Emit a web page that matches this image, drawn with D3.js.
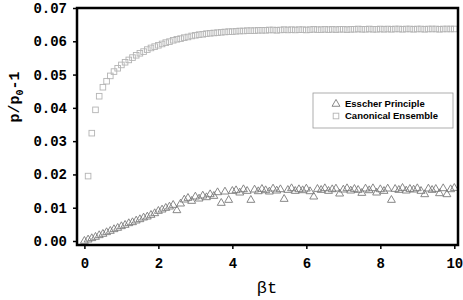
<!DOCTYPE html>
<html>
<head>
<meta charset="utf-8">
<script src="https://cdn.jsdelivr.net/npm/d3@7"></script>
<style>
  body { margin: 0; background: #fff; }
  svg { display: block; }
</style>
</head>
<body>
<svg id="chart" width="463" height="300"></svg>
<script>
// Time axis (beta t), step 0.1
const esscherT = d3.range(0, 101).map(i => +(i / 10).toFixed(1));
const canonicalT = d3.range(1, 101).map(i => +(i / 10).toFixed(1));

// Esscher Principle (triangles)
const esscherValues = [
  0.0000, 0.0004, 0.0008, 0.0012, 0.0017, 0.0021, 0.0026, 0.0030, 0.0035, 0.0039,
  0.0044, 0.0048, 0.0053, 0.0056, 0.0061, 0.0065, 0.0070, 0.0073, 0.0078, 0.0083,
  0.0090, 0.0094, 0.0099, 0.0103, 0.0108, 0.0092, 0.0112, 0.0124, 0.0129, 0.0120,
  0.0133, 0.0127, 0.0136, 0.0131, 0.0140, 0.0135, 0.0146, 0.0114, 0.0148, 0.0123,
  0.0150, 0.0152, 0.0145, 0.0155, 0.0150, 0.0123, 0.0154, 0.0149, 0.0156, 0.0152,
  0.0148, 0.0157, 0.0151, 0.0155, 0.0126, 0.0153, 0.0158, 0.0150, 0.0155, 0.0152,
  0.0157, 0.0149, 0.0133, 0.0156, 0.0153, 0.0158, 0.0150, 0.0155, 0.0157, 0.0142,
  0.0154, 0.0158, 0.0151, 0.0156, 0.0153, 0.0144, 0.0157, 0.0152, 0.0158, 0.0145,
  0.0155, 0.0150, 0.0157, 0.0123, 0.0156, 0.0153, 0.0159, 0.0151, 0.0156, 0.0154,
  0.0158, 0.0150, 0.0140, 0.0157, 0.0153, 0.0156, 0.0143, 0.0158, 0.0140, 0.0155,
  0.0159
];

// Canonical Ensemble (squares)
const canonicalValues = [
  0.0195, 0.0324, 0.0394, 0.0435, 0.0462, 0.0480, 0.0496, 0.0509, 0.0519, 0.0529,
  0.0537, 0.0544, 0.0551, 0.0558, 0.0564, 0.0569, 0.0575, 0.0580, 0.0584, 0.0588,
  0.0592, 0.0596, 0.0599, 0.0603, 0.0606, 0.0608, 0.0611, 0.0613, 0.0616, 0.0618,
  0.0620, 0.0621, 0.0623, 0.0624, 0.0625, 0.0626, 0.0627, 0.0628, 0.0629, 0.0629,
  0.0630, 0.0631, 0.0631, 0.0632, 0.0632, 0.0632, 0.0633, 0.0633, 0.0633, 0.0634,
  0.0634, 0.0633, 0.0634, 0.0635, 0.0634, 0.0635, 0.0634, 0.0635, 0.0635, 0.0634,
  0.0635, 0.0636, 0.0635, 0.0635, 0.0636, 0.0635, 0.0636, 0.0635, 0.0636, 0.0636,
  0.0635, 0.0636, 0.0636, 0.0637, 0.0636, 0.0636, 0.0637, 0.0636, 0.0636, 0.0637,
  0.0636, 0.0637, 0.0636, 0.0637, 0.0637, 0.0636, 0.0637, 0.0637, 0.0636, 0.0637,
  0.0637, 0.0636, 0.0637, 0.0637, 0.0637, 0.0636, 0.0637, 0.0637, 0.0637, 0.0637
];

const xTicks = [0, 2, 4, 6, 8, 10];
const yTicks = [0, 0.01, 0.02, 0.03, 0.04, 0.05, 0.06, 0.07];
const seriesNames = ['Esscher Principle', 'Canonical Ensemble'];

const margin = { top: 8, right: 5, bottom: 55, left: 77 };
const svg = d3.select('#chart');
const width = +svg.attr('width') - margin.left - margin.right;
const height = +svg.attr('height') - margin.top - margin.bottom;
const g = svg.append('g').attr('transform', `translate(${margin.left},${margin.top})`);

const x = d3.scaleLinear().domain([-0.2, 10.1]).range([0, width]);
const y = d3.scaleLinear().domain([-0.0012, 0.07]).range([height, 0]);

const monoFont = '"Liberation Mono", "Courier New", monospace';

// Axes
const yAxis = g.append('g')
  .call(d3.axisLeft(y).tickValues(yTicks).tickFormat(d3.format('.2f')).tickSize(4).tickPadding(6));
const xAxis = g.append('g')
  .attr('transform', `translate(0,${height})`)
  .call(d3.axisBottom(x).tickValues(xTicks).tickFormat(d3.format('d')).tickSize(4).tickPadding(9));

[xAxis, yAxis].forEach(ax => {
  ax.select('.domain').remove();
  ax.selectAll('line').attr('stroke', '#000').attr('stroke-width', 1.5);
  ax.selectAll('text')
    .attr('fill', '#000')
    .style('font-family', monoFont)
    .style('font-weight', 'bold')
    .style('font-size', '14px');
});

// Markers
const triangle = d3.symbol().type(d3.symbolTriangle).size(27);

g.append('g')
  .selectAll('path')
  .data(esscherValues)
  .join('path')
  .attr('d', triangle)
  .attr('transform', (d, i) => `translate(${x(esscherT[i])},${y(d)})`)
  .attr('fill', 'none')
  .attr('stroke', '#7a7a7a')
  .attr('stroke-width', 0.9);

g.append('g')
  .selectAll('rect')
  .data(canonicalValues)
  .join('rect')
  .attr('x', (d, i) => x(canonicalT[i]) - 2.8)
  .attr('y', d => y(d) - 2.8)
  .attr('width', 5.6)
  .attr('height', 5.6)
  .attr('fill', 'none')
  .attr('stroke', '#b4b4b4')
  .attr('stroke-width', 0.9);

// Frame
g.append('rect')
  .attr('x', 0).attr('y', 0)
  .attr('width', width).attr('height', height)
  .attr('fill', 'none')
  .attr('stroke', '#000')
  .attr('stroke-width', 2.5);

// Legend
const legend = g.append('g').attr('transform', `translate(${313 - margin.left},${93 - margin.top})`);
legend.append('rect')
  .attr('width', 140).attr('height', 35)
  .attr('fill', '#fff')
  .attr('stroke', '#9a9a9a')
  .attr('stroke-width', 0.8);

legend.append('path')
  .attr('d', triangle)
  .attr('transform', 'translate(23,11)')
  .attr('fill', 'none').attr('stroke', '#7a7a7a').attr('stroke-width', 0.9);
legend.append('rect')
  .attr('x', 20.2).attr('y', 20.2).attr('width', 5.6).attr('height', 5.6)
  .attr('fill', 'none').attr('stroke', '#b4b4b4').attr('stroke-width', 0.9);

legend.selectAll('text')
  .data(seriesNames)
  .join('text')
  .attr('x', 32)
  .attr('y', (d, i) => 11 + i * 12)
  .attr('dy', '0.35em')
  .style('font-family', '"Liberation Sans", Arial, sans-serif')
  .style('font-weight', 'bold')
  .style('font-size', '9.5px')
  .text(d => d);

// Axis titles
svg.append('text')
  .attr('transform', 'translate(19,97) rotate(-90)')
  .attr('text-anchor', 'middle')
  .style('font-family', monoFont)
  .style('font-weight', 'bold')
  .style('font-size', '15px')
  .call(t => {
    t.append('tspan').text('p/p');
    t.append('tspan').attr('dy', 4).style('font-size', '10px').text('0');
    t.append('tspan').attr('dy', -4).text('-1');
  });

svg.append('text')
  .attr('x', 267)
  .attr('y', 293)
  .attr('text-anchor', 'middle')
  .style('font-family', monoFont)
  .style('font-size', '17px')
  .text('βt');
</script>
</body>
</html>
